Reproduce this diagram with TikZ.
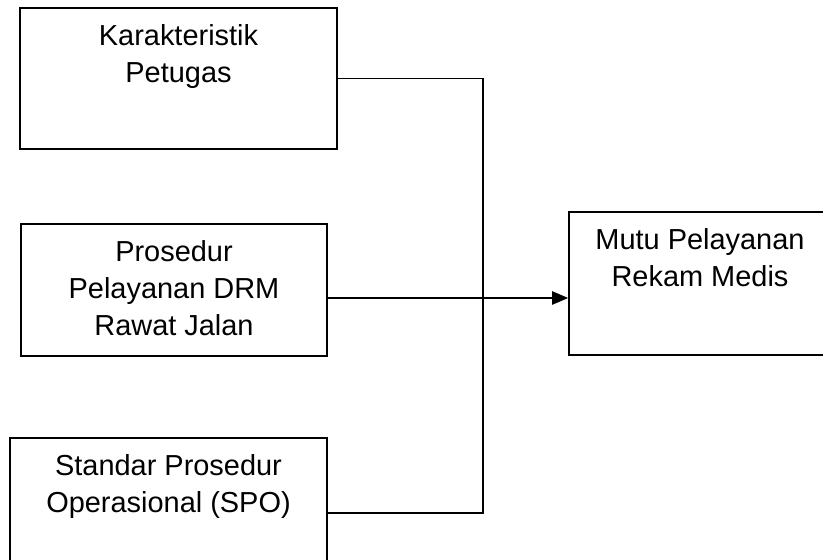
\documentclass[tikz,border=0pt]{standalone}
\usepackage{fontspec}
\setmainfont{Liberation Sans}
\usetikzlibrary{positioning,arrows.meta}

\begin{document}
\begin{tikzpicture}[
    boxStyle/.style={rectangle, draw=black, line width=1.5pt, fill=white, inner sep=0pt},
    textStyle/.style={anchor=north, align=center, inner sep=0pt, yshift=-0.53cm, font=\fontsize{24.7}{31.3}\selectfont},
    lineStyle/.style={draw=black, line width=1.2pt},
    arrowStyle/.style={-{Triangle[length=0.48cm, width=0.4cm]}, line width=1.2pt, draw=black}
]
    \useasboundingbox (0,0) rectangle (24.69,16.77);

    \node[boxStyle, minimum width=9.51cm, minimum height=4.23cm,
        label={[textStyle]north:{Karakteristik\\Petugas}}] (petugas) at (5.355,14.415) {};

    \node[boxStyle, minimum width=9.18cm, minimum height=3.96cm,
        label={[textStyle]north:{Prosedur\\Pelayanan DRM\\Rawat Jalan}}] (prosedur) at (5.22,8.07) {};

    \node[boxStyle, minimum width=9.51cm, minimum height=4.5cm,
        label={[textStyle]north:{Standar Prosedur\\Operasional (SPO)}}] (spo) at (5.055,1.38) {};

    \node[boxStyle, minimum width=7.86cm, minimum height=4.29cm,
        label={[textStyle]north:{Mutu Pelayanan\\Rekam Medis}}] (mutu) at (21.0,8.265) {};

    \coordinate (merge) at (14.49,7.83);

    \draw[lineStyle] (petugas.east) -| (merge) |- (spo.east);
    \draw[arrowStyle] (prosedur.east |- merge) -- (mutu.west |- merge);
\end{tikzpicture}
\end{document}
